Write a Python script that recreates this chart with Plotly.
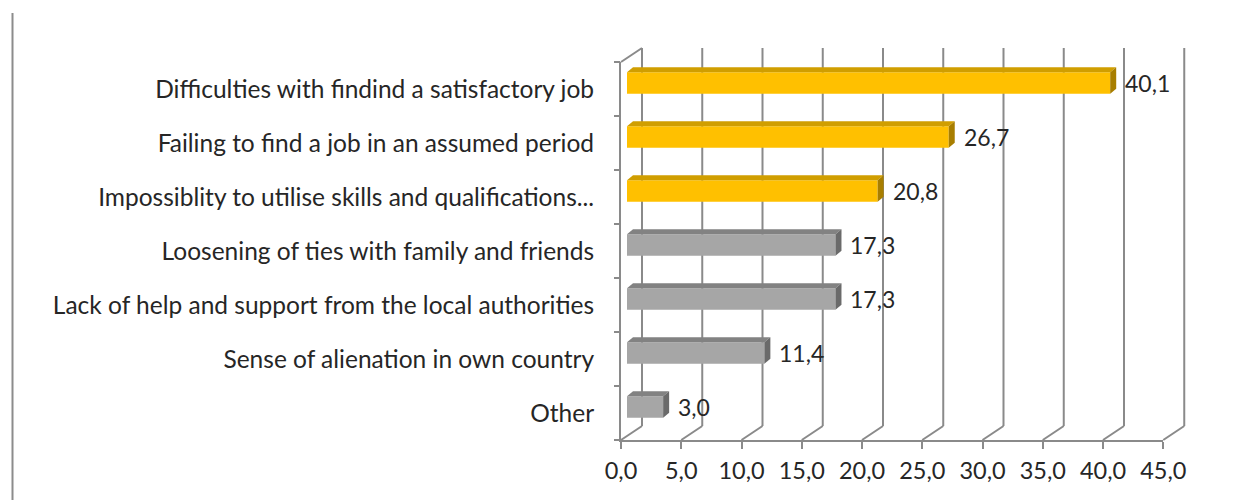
import plotly.graph_objects as go

# ---- data ----
categories = [
    "Difficulties with findind a satisfactory job",
    "Failing to find a job in an assumed period",
    "Impossiblity to utilise skills and qualifications...",
    "Loosening of ties with family and friends",
    "Lack of help and support from the local authorities",
    "Sense of alienation in own country",
    "Other",
]
values = [40.1, 26.7, 20.8, 17.3, 17.3, 11.4, 3.0]
highlight = [True, True, True, False, False, False, False]
x_ticks = [0, 5, 10, 15, 20, 25, 30, 35, 40, 45]

# ---- layout geometry (pixels) ----
W, H = 1233, 500
X_MAX = 45
PX0, PX1 = 621, 1163.25          # front plane: value 0 and 45
PY_TOP, PY_BOT = 62, 440           # front plane: top and bottom of plot
BAR_SHIFT = (6, -6)                # bar plane offset from front plane
BACK_SHIFT = (21, -14)             # back wall offset from front plane
K = (PX1 - PX0) / X_MAX            # pixels per unit
BAND = (PY_BOT - PY_TOP) / len(categories)

FONT = "Lato"
TEXT_COL = "#262626"
GRID_COL = "#8a8a8a"


def xdom(shift):
    return [(PX0 + shift) / W, (PX1 + shift) / W]


def ydom(shift):
    return [1 - (PY_BOT + shift) / H, 1 - (PY_TOP + shift) / H]


def px(x, y):
    return x / W, 1 - y / H


def seg(p, q, color=GRID_COL, width=2, layer="below"):
    (x0, y0), (x1, y1) = px(*p), px(*q)
    return dict(type="line", xref="paper", yref="paper", x0=x0, y0=y0, x1=x1, y1=y1,
                line=dict(color=color, width=width), layer=layer)


fig = go.Figure()

# placeholder traces so that every axis pair is drawn
for xa, ya in (("x", "y"), ("x", "y3")):
    fig.add_trace(go.Scatter(x=[None], y=[None], xaxis=xa, yaxis=ya,
                             showlegend=False, hoverinfo="skip"))

# colours: front face, top face, side face
YEL = ("#FFC000", "#D09E00", "#A87E00")
GRY = ("#A6A6A6", "#828282", "#6A6A6A")

half = 0.40 / 2
dx = 6 / K
dy = 5 / BAND
n = len(categories)
idx = list(range(n))

fig.add_trace(go.Bar(
    x=values, y=idx, orientation="h", width=half * 2,
    marker=dict(color=[YEL[0] if h else GRY[0] for h in highlight], line=dict(width=0)),
    xaxis="x2", yaxis="y2", hoverinfo="skip", showlegend=False,
))

# top and side faces of each bar, plus its value label
for i, (v, h) in enumerate(zip(values, highlight)):
    cols = YEL if h else GRY
    top_y = i - half
    bot_y = i + half
    fig.add_trace(go.Scatter(
        x=[0, v, v + dx, dx, 0], y=[top_y, top_y, top_y - dy, top_y - dy, top_y],
        fill="toself", fillcolor=cols[1], mode="lines", line=dict(width=0),
        xaxis="x2", yaxis="y2", hoverinfo="skip", showlegend=False,
    ))
    fig.add_trace(go.Scatter(
        x=[v, v, v + dx, v + dx, v], y=[top_y, bot_y, bot_y - dy, top_y - dy, top_y],
        fill="toself", fillcolor=cols[2], mode="lines", line=dict(width=0),
        xaxis="x2", yaxis="y2", hoverinfo="skip", showlegend=False,
    ))
    fig.add_annotation(
        x=v, y=i, xref="x2", yref="y2", text=f"{v:.1f}".replace(".", ","),
        showarrow=False, xanchor="left", xshift=13,
        font=dict(family=FONT, size=23, color=TEXT_COL),
    )

shapes = []
bx, by = BACK_SHIFT
for v in x_ticks:
    fx = PX0 + K * v
    # back wall gridline
    shapes.append(seg((fx + bx, PY_TOP + by), (fx + bx, PY_BOT + by)))
    # floor diagonal joining the front axis to the back wall
    shapes.append(seg((fx, PY_BOT), (fx + bx, PY_BOT + by)))
# top edge of the left wall
shapes.append(seg((PX0, PY_TOP), (PX0 + bx, PY_TOP + by)))
# frame line at the far left
shapes.append(seg((12.5, 13), (12.5, 500), color="#8c8c8c", layer="above"))

yrange = [n - 0.5, -0.5]

fig.update_layout(
    width=W, height=H,
    margin=dict(l=0, r=0, t=0, b=0, pad=0, autoexpand=False),
    paper_bgcolor="white", plot_bgcolor="rgba(0,0,0,0)",
    separators=", ",
    font=dict(family=FONT, size=18, color=TEXT_COL),
    shapes=shapes,
    # front plane: value axis with ticks and labels
    xaxis=dict(domain=xdom(0), range=[0, X_MAX], tickmode="array", tickvals=x_ticks,
               tickformat=".1f", showgrid=False, zeroline=False, showline=True,
               linecolor=GRID_COL, linewidth=2, ticks="outside", ticklen=7, tickwidth=2,
               tickcolor=GRID_COL, automargin=False, ticklabelstandoff=2,
               tickfont=dict(family=FONT, size=23.5, color=TEXT_COL), anchor="y", fixedrange=True),
    yaxis=dict(domain=ydom(0), range=yrange, tickmode="array", tickvals=idx, ticktext=categories,
               showgrid=False, zeroline=False, showline=True, linecolor=GRID_COL, linewidth=2,
               ticks="", ticklabelstandoff=20, automargin=False,
               tickfont=dict(family=FONT, size=24.5, color=TEXT_COL), anchor="x", fixedrange=True),
    # category boundary ticks on the front axis
    yaxis3=dict(domain=ydom(0), range=yrange, overlaying="y", anchor="x", side="left",
                tickmode="array", tickvals=[i - 0.5 for i in range(n + 1)], showticklabels=False,
                ticks="outside", ticklen=6, tickwidth=2, tickcolor=GRID_COL, automargin=False,
                showgrid=False, zeroline=False, showline=False, fixedrange=True),
    # bar plane
    xaxis2=dict(domain=xdom(BAR_SHIFT[0]), range=[0, X_MAX], visible=False, anchor="y2",
                automargin=False, fixedrange=True),
    yaxis2=dict(domain=ydom(BAR_SHIFT[1]), range=yrange, visible=False, anchor="x2",
                automargin=False, fixedrange=True),
)

fig.write_html("out.html", config={"displayModeBar": False})
